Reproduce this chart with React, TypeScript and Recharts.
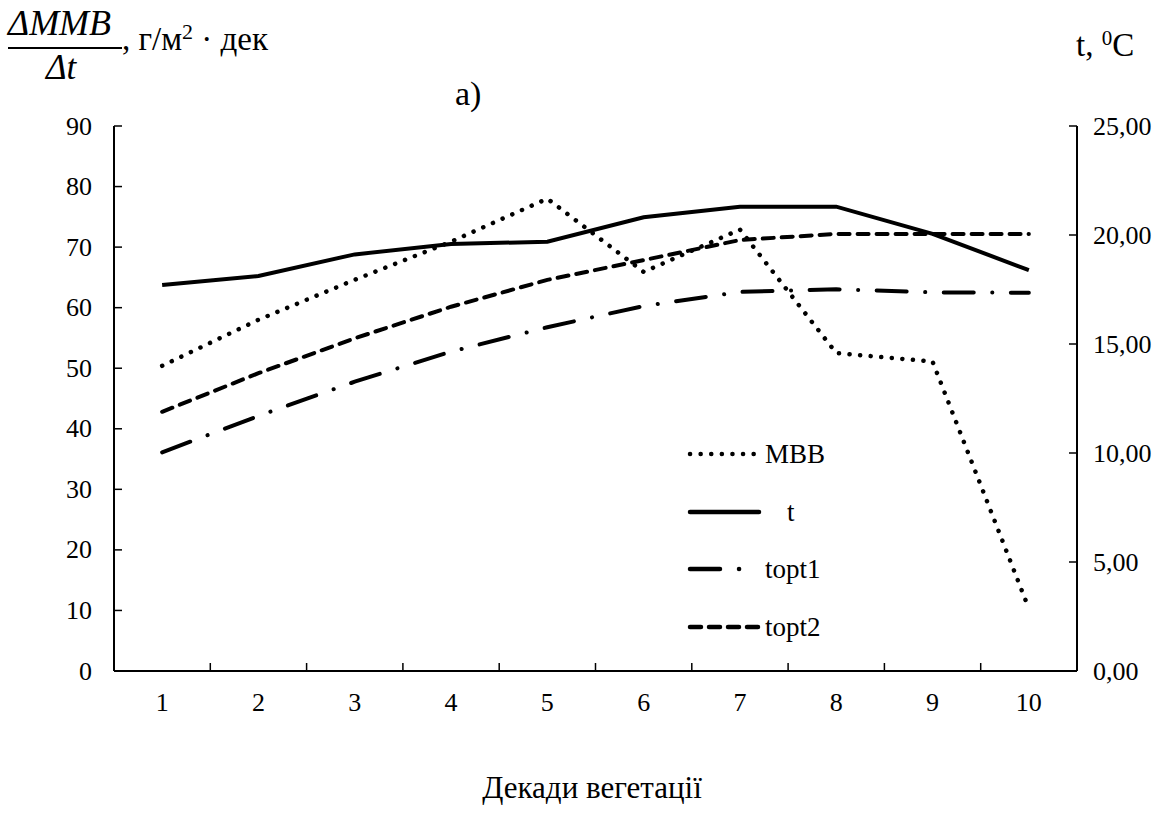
import { CartesianGrid, Line, LineChart, XAxis, YAxis } from "recharts";

const decades = [1, 2, 3, 4, 5, 6, 7, 8, 9, 10];
const mbb = [50.4, 58.0, 64.6, 70.9, 78.0, 65.9, 72.9, 52.5, 51.1, 10.3];
const tAir = [17.71, 18.12, 19.11, 19.59, 19.69, 20.81, 21.3, 21.3, 20.05, 18.39];
const topt1 = [10.03, 11.7, 13.27, 14.65, 15.77, 16.74, 17.39, 17.51, 17.37, 17.35];
const topt2 = [11.89, 13.66, 15.26, 16.71, 17.94, 18.85, 19.77, 20.05, 20.05, 20.05];

const leftTicks = [0, 10, 20, 30, 40, 50, 60, 70, 80, 90];
const rightTicks = [0, 5, 10, 15, 20, 25];

const data = decades.map((d, i) => ({
  decade: d,
  mbb: mbb[i],
  t: tAir[i],
  topt1: topt1[i],
  topt2: topt2[i],
}));

const W = 1175;
const H = 827;
const PLOT_LEFT = 114;
const PLOT_RIGHT = 1077;
const PLOT_TOP = 126;
const PLOT_BOTTOM = 671;
const BAND = (PLOT_RIGHT - PLOT_LEFT) / decades.length;
const FONT = "'Liberation Serif', 'Times New Roman', Tinos, serif";

const DOTTED = "0.1 10.5";
const DASH_DOT = "30 18.5 0.1 18.5";
const DASHED = "11 8";

function LeftTick({ x, y, payload }: any) {
  return (
    <g>
      <line x1={PLOT_LEFT} x2={PLOT_LEFT + 8} y1={y} y2={y} stroke="#000" strokeWidth={1.5} />
      <text x={x} y={y} textAnchor="end" dominantBaseline="central" fontSize={26} fontFamily={FONT} fill="#000">
        {payload.value}
      </text>
    </g>
  );
}

function RightTick({ x, y, payload }: any) {
  return (
    <g>
      <line x1={PLOT_RIGHT - 8} x2={PLOT_RIGHT} y1={y} y2={y} stroke="#000" strokeWidth={1.5} />
      <text x={x} y={y} textAnchor="start" dominantBaseline="central" fontSize={26} fontFamily={FONT} fill="#000">
        {Number(payload.value).toFixed(2).replace(".", ",")}
      </text>
    </g>
  );
}

function BottomTick({ x, y, payload, index }: any) {
  return (
    <g>
      {index < decades.length - 1 && (
        <line
          x1={x + BAND / 2}
          x2={x + BAND / 2}
          y1={PLOT_BOTTOM}
          y2={PLOT_BOTTOM - 8}
          stroke="#000"
          strokeWidth={1.5}
        />
      )}
      <text x={x} y={y} dy="0.71em" textAnchor="middle" fontSize={26} fontFamily={FONT} fill="#000">
        {payload.value}
      </text>
    </g>
  );
}

function LegendRow({ top, dash, label, labelLeft }: { top: number; dash?: string; label: string; labelLeft: number }) {
  return (
    <div style={{ position: "absolute", left: 684, top: top - 14, height: 28, width: 200 }}>
      <svg width={80} height={28} style={{ position: "absolute", left: 0, top: 0 }}>
        <line
          x1={6}
          x2={75}
          y1={14}
          y2={14}
          stroke="#000"
          strokeWidth={4.5}
          strokeLinecap="round"
          strokeDasharray={dash}
        />
      </svg>
      <span
        style={{
          position: "absolute",
          left: labelLeft - 684,
          top: 0,
          lineHeight: "28px",
          fontSize: 27,
          fontFamily: FONT,
        }}
      >
        {label}
      </span>
    </div>
  );
}

export default function App() {
  return (
    <div style={{ position: "absolute", left: 0, top: 0, width: W, height: H, background: "#fff", fontFamily: FONT }}>
      <LineChart
        width={W}
        height={H}
        data={data}
        margin={{ top: PLOT_TOP, left: PLOT_LEFT - 60, right: W - PLOT_RIGHT - 90, bottom: H - PLOT_BOTTOM - 50 }}
      >
        <CartesianGrid stroke="none" />
        <XAxis
          dataKey="decade"
          height={50}
          padding={{ left: BAND / 2, right: BAND / 2 }}
          axisLine={{ stroke: "#000", strokeWidth: 2 }}
          tickLine={false}
          tickSize={0}
          tickMargin={22}
          tick={BottomTick}
          interval={0}
        />
        <YAxis
          yAxisId="left"
          width={60}
          domain={[0, 90]}
          ticks={leftTicks}
          axisLine={{ stroke: "#000", strokeWidth: 2 }}
          tickLine={false}
          tickSize={0}
          tickMargin={22}
          tick={LeftTick}
          interval={0}
        />
        <YAxis
          yAxisId="right"
          orientation="right"
          width={90}
          domain={[0, 25]}
          ticks={rightTicks}
          axisLine={{ stroke: "#000", strokeWidth: 2 }}
          tickLine={false}
          tickSize={0}
          tickMargin={16}
          tick={RightTick}
          interval={0}
        />
        <Line
          yAxisId="left"
          dataKey="mbb"
          stroke="#000"
          strokeWidth={4.5}
          strokeLinecap="round"
          strokeDasharray={DOTTED}
          dot={false}
          isAnimationActive={false}
        />
        <Line
          yAxisId="right"
          dataKey="t"
          stroke="#000"
          strokeWidth={4}
          dot={false}
          isAnimationActive={false}
        />
        <Line
          yAxisId="right"
          dataKey="topt1"
          stroke="#000"
          strokeWidth={4}
          strokeLinecap="round"
          strokeDasharray={DASH_DOT}
          dot={false}
          isAnimationActive={false}
        />
        <Line
          yAxisId="right"
          dataKey="topt2"
          stroke="#000"
          strokeWidth={4}
          strokeLinecap="round"
          strokeDasharray={DASHED}
          dot={false}
          isAnimationActive={false}
        />
      </LineChart>

      {/* top-left unit label */}
      <div style={{ position: "absolute", left: 8, top: 3, fontSize: 36, fontStyle: "italic", lineHeight: "40px" }}>
        ΔMMB
      </div>
      <div style={{ position: "absolute", left: 8, top: 47, width: 114, height: 2, background: "#000" }} />
      <div style={{ position: "absolute", left: 46, top: 48, fontSize: 35, fontStyle: "italic", lineHeight: "40px" }}>
        Δt
      </div>
      <div style={{ position: "absolute", left: 122, top: 12, fontSize: 33, lineHeight: "40px", whiteSpace: "nowrap" }}>
        , г/м<sup style={{ fontSize: 22, verticalAlign: "11px" }}>2</sup> · дек
      </div>

      <div style={{ position: "absolute", left: 455, top: 74, fontSize: 34, lineHeight: "40px" }}>а)</div>
      <div style={{ position: "absolute", left: 1076, top: 18, fontSize: 33, lineHeight: "40px", whiteSpace: "nowrap" }}>
        t, <sup style={{ fontSize: 21, verticalAlign: "11px" }}>0</sup>C
      </div>

      <LegendRow top={454} dash={DOTTED} label="MBB" labelLeft={765} />
      <LegendRow top={512} label="t" labelLeft={787} />
      <LegendRow top={569} dash="30 19 0.1 100" label="topt1" labelLeft={765} />
      <LegendRow top={627} dash={DASHED} label="topt2" labelLeft={765} />

      <div
        style={{
          position: "absolute",
          left: 0,
          width: 1184,
          top: 768,
          textAlign: "center",
          fontSize: 31,
          lineHeight: "40px",
        }}
      >
        Декади вегетації
      </div>
    </div>
  );
}
